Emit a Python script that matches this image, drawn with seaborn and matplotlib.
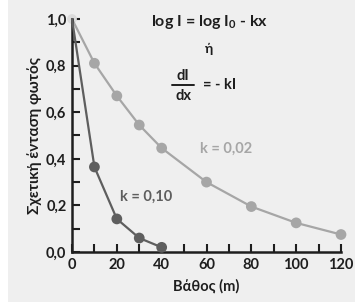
import matplotlib
matplotlib.use("Agg")
import matplotlib.pyplot as plt
import seaborn as sns
import pandas as pd
from matplotlib.patches import Rectangle
from matplotlib.lines import Line2D
from matplotlib.ticker import MultipleLocator, FuncFormatter

# ---- data ----
depth_k002 = [0, 10, 20, 30, 40, 60, 80, 100, 120]
intensity_k002 = [1.0, 0.81, 0.67, 0.545, 0.446, 0.30, 0.195, 0.125, 0.075]
depth_k010 = [0, 10, 20, 30, 40]
intensity_k010 = [1.0, 0.365, 0.142, 0.06, 0.02]
x_ticks = [0, 20, 40, 60, 80, 100, 120]
y_ticks = [0.0, 0.2, 0.4, 0.6, 0.8, 1.0]
label_k002 = "k = 0,02"
label_k010 = "k = 0,10"
x_label = "Βάθος (m)"
y_label = "Σχετική ένταση φωτός"

sns.set_theme(style="ticks")
FONT = ["Lato", "DejaVu Sans"]
plt.rcParams["font.family"] = FONT
plt.rcParams["font.weight"] = "bold"
plt.rcParams["mathtext.default"] = "regular"

BG = "#efefef"
DARK = "#5e5e5e"
LIGHT = "#a6a6a6"
AX = "#1e1e1e"

W, H = 355, 302
fig = plt.figure(figsize=(W / 100, H / 100), dpi=100, facecolor=BG)
fig.patches.append(Rectangle((0, 0), 8 / W, 1, transform=fig.transFigure,
                             facecolor="white", edgecolor="none", zorder=-1))
ax = fig.add_axes([72 / W, 1 - 252 / H, (341 - 72) / W, (252 - 19) / H])
ax.set_facecolor(BG)

df1 = pd.DataFrame({"x": depth_k002, "y": intensity_k002})
df2 = pd.DataFrame({"x": depth_k010, "y": intensity_k010})

sns.lineplot(data=df1, x="x", y="y", ax=ax, color=LIGHT, linewidth=1.6,
             zorder=2, clip_on=False)
sns.scatterplot(data=df1.iloc[1:], x="x", y="y", ax=ax, color=LIGHT, s=60,
                edgecolor="none", zorder=3, clip_on=False)
sns.lineplot(data=df2, x="x", y="y", ax=ax, color=DARK, linewidth=1.6,
             zorder=4, clip_on=False)
sns.scatterplot(data=df2.iloc[1:], x="x", y="y", ax=ax, color=DARK, s=60,
                edgecolor="none", zorder=5, clip_on=False)
sns.scatterplot(data=df1.iloc[:1], x="x", y="y", ax=ax, color="#dcdcdc", s=50,
                edgecolor="none", zorder=1, clip_on=False)

ax.set_xlim(0, 120)
ax.set_ylim(0, 1.0)
ax.xaxis.set_minor_locator(MultipleLocator(10))
ax.yaxis.set_minor_locator(MultipleLocator(0.1))
ax.set_xticks(x_ticks)
ax.set_yticks(y_ticks)
ax.yaxis.set_major_formatter(FuncFormatter(lambda v, p: f"{v:.1f}".replace(".", ",")))
ax.xaxis.set_major_formatter(FuncFormatter(lambda v, p: f"{v:.0f}"))

for s in ["top", "right"]:
    ax.spines[s].set_visible(False)
for s in ["left", "bottom"]:
    ax.spines[s].set_color(AX)
    ax.spines[s].set_linewidth(1.8)

ax.tick_params(which="both", direction="in", length=5.5, width=1.5, color=AX,
               labelsize=10.5, labelcolor=AX)
ax.tick_params(axis="x", pad=4)
ax.tick_params(axis="y", pad=4)
for lab in ax.get_xticklabels() + ax.get_yticklabels():
    lab.set_fontweight("bold")

ax.set_xlabel(x_label, fontsize=10.5, fontweight="bold", color=AX, labelpad=5.5)
ax.set_ylabel(y_label, fontsize=11, fontweight="bold", color=AX, labelpad=3)

ax.text(57, 0.445, label_k002, fontsize=10.5, fontweight="bold", color=LIGHT,
        va="center", ha="left")
ax.text(21.5, 0.235, label_k010, fontsize=10.5, fontweight="bold", color=DARK,
        va="center", ha="left")

def ftext(px, py, s, **kw):
    fig.text(px / W, 1 - py / H, s, fontweight="bold", color=AX, **kw)

ftext(210, 22, "log I = log I$_{0}$ - kx", fontsize=11.5, ha="center", va="center")
ftext(209, 49, "ή", fontsize=10, ha="center", va="center")
ftext(183, 76, "dI", fontsize=10.5, ha="center", va="center")
ftext(183, 96, "dx", fontsize=10.5, ha="center", va="center")
fig.lines.append(Line2D([172 / W, 194 / W], [1 - 85 / H, 1 - 85 / H],
                        transform=fig.transFigure, color=AX, linewidth=1.4))
ftext(203, 85, "= - kI", fontsize=10.5, ha="left", va="center")

fig.savefig("out.png", dpi=100, facecolor=BG)
